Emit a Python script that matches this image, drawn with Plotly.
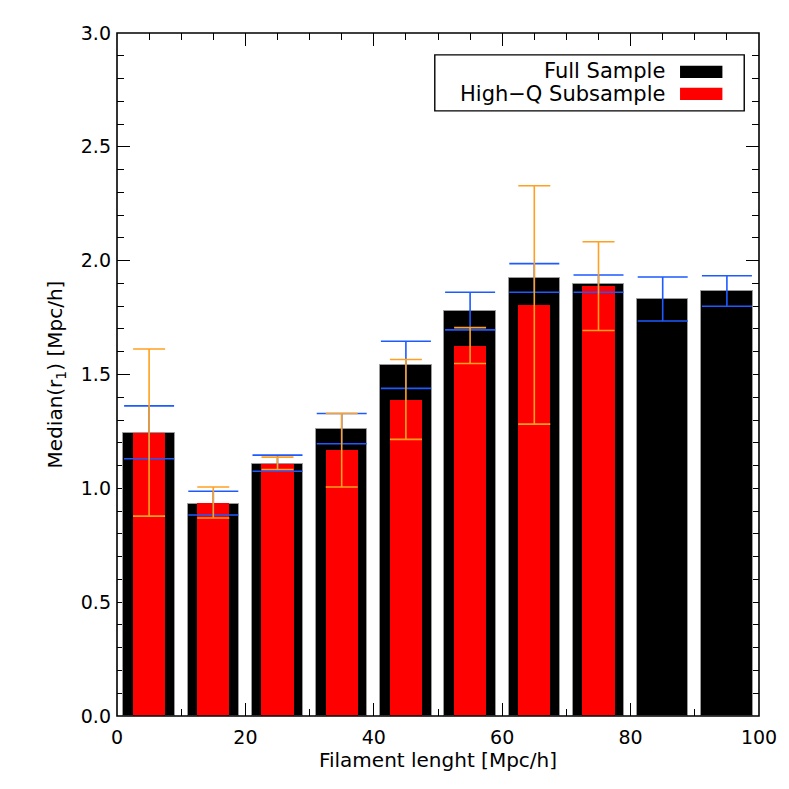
"""Median filament radius vs filament length, full sample vs high-Q subsample."""
import plotly.graph_objects as go

# bin centres [Mpc/h]
length_bins = [5, 15, 25, 35, 45, 55, 65, 75, 85, 95]

full_median = [1.245, 0.933, 1.108, 1.262, 1.542, 1.778, 1.922, 1.896, 1.830, 1.867]
full_upper = [1.362, 0.987, 1.146, 1.329, 1.646, 1.861, 1.987, 1.937, 1.928, 1.934]
full_lower = [1.130, 0.883, 1.075, 1.196, 1.439, 1.696, 1.861, 1.861, 1.735, 1.800]

hq_bins = length_bins[:8]
hq_median = [1.245, 0.937, 1.108, 1.167, 1.389, 1.627, 1.806, 1.887]
hq_upper = [1.612, 1.006, 1.137, 1.329, 1.566, 1.706, 2.329, 2.083]
hq_lower = [0.878, 0.870, 1.083, 1.006, 1.215, 1.548, 1.282, 1.693]

series_names = ["Full Sample", "High\u2212Q Subsample"]

COLORS = {
    "full": "#000000",
    "hq": "#FF0000",
    "full_err": "#1E5BFF",
    "hq_err": "#FFA020",
}
FONT = "DejaVu Sans, sans-serif"

fig = go.Figure()

fig.add_trace(go.Bar(
    x=length_bins, y=full_median, width=8,
    marker=dict(color=COLORS["full"], line=dict(color="#9a9a9a", width=1)),
    name=series_names[0],
))
fig.add_trace(go.Bar(
    x=hq_bins, y=hq_median, width=5,
    marker=dict(color=COLORS["hq"], line=dict(width=0)),
    name=series_names[1],
))

# error bars drawn after both bar sets so they sit on top
fig.add_trace(go.Scatter(
    x=length_bins, y=full_median, mode="markers",
    marker=dict(size=1, color="rgba(0,0,0,0)"),
    error_y=dict(
        type="data", symmetric=False,
        array=[u - m for u, m in zip(full_upper, full_median)],
        arrayminus=[m - l for m, l in zip(full_median, full_lower)],
        color=COLORS["full_err"], thickness=1.6, width=25,
    ),
    hoverinfo="skip",
))
fig.add_trace(go.Scatter(
    x=hq_bins, y=hq_median, mode="markers",
    marker=dict(size=1, color="rgba(0,0,0,0)"),
    error_y=dict(
        type="data", symmetric=False,
        array=[u - m for u, m in zip(hq_upper, hq_median)],
        arrayminus=[m - l for m, l in zip(hq_median, hq_lower)],
        color=COLORS["hq_err"], thickness=1.6, width=16,
    ),
    hoverinfo="skip",
))

axis_common = dict(
    ticks="inside", ticklen=13, tickwidth=1.4, tickcolor="black",
    mirror="allticks", showline=False, showgrid=False, zeroline=False,
    layer="below traces",
    tickfont=dict(family=FONT, size=19, color="black"),
)

fig.update_xaxes(
    range=[0, 100], dtick=20, tick0=0,
    minor=dict(dtick=5, ticks="inside", ticklen=7, tickwidth=1.4, tickcolor="black"),
    title=dict(text="Filament lenght [Mpc/h]", font=dict(family=FONT, size=20, color="black"), standoff=4),
    ticklabelstandoff=8,
    **axis_common,
)
fig.update_yaxes(
    range=[0, 3], dtick=0.5, tick0=0, tickformat=".1f",
    minor=dict(dtick=0.1, ticks="inside", ticklen=7, tickwidth=1.4, tickcolor="black"),
    title=dict(text="Median(r<sub>1</sub>) [Mpc/h]", font=dict(family=FONT, size=20, color="black"), standoff=12),
    ticklabelstandoff=5,
    **axis_common,
)

# plot frame above the bars
fig.add_shape(type="rect", xref="paper", yref="paper", x0=0, x1=1, y0=0, y1=1,
              line=dict(color="black", width=1.6), layer="above")

# legend box with swatches on the right, as in the original
fig.add_shape(type="rect", xref="paper", yref="paper", x0=0.495, x1=0.977, y0=0.886, y1=0.968,
              line=dict(color="black", width=1.4), fillcolor="white", layer="above")
for name, col, yc, ya, yb in [
    (series_names[0], COLORS["full"], 0.944, 0.934, 0.952),
    (series_names[1], COLORS["hq"], 0.911, 0.902, 0.920),
]:
    fig.add_annotation(text=name, xref="paper", yref="paper", x=0.856, y=yc,
                       xanchor="right", yanchor="middle", showarrow=False,
                       font=dict(family=FONT, size=21, color="black"))
    fig.add_shape(type="rect", xref="paper", yref="paper", x0=0.877, x1=0.943, y0=ya, y1=yb,
                  line=dict(width=0), fillcolor=col, layer="above")

fig.update_layout(
    width=789, height=789,
    barmode="overlay", bargap=0,
    showlegend=False,
    plot_bgcolor="white", paper_bgcolor="white",
    font=dict(family=FONT, color="black"),
    margin=dict(l=109, r=38, t=25, b=81),
)

fig.write_html("out.html")
